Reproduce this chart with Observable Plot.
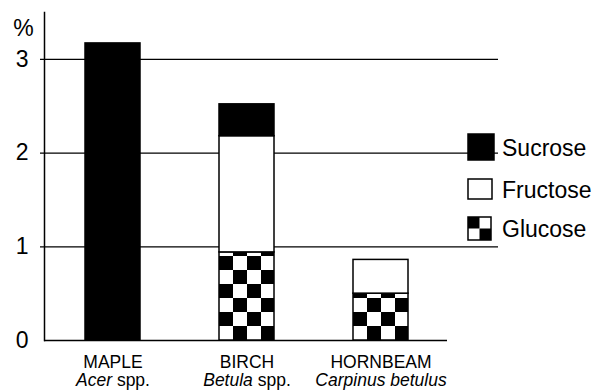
<!DOCTYPE html>
<html>
<head>
<meta charset="utf-8">
<script src="https://cdn.jsdelivr.net/npm/d3@7"></script>
<script src="https://cdn.jsdelivr.net/npm/@observablehq/plot@0.6"></script>
<style>
  html, body { margin: 0; padding: 0; background: #fff; }
  #chart { width: 593px; height: 390px; }
</style>
</head>
<body>
<div id="chart"></div>
<script>
// ---- data ----
const trees = ["MAPLE", "BIRCH", "HORNBEAM"];
const genus = ["Acer", "Betula", "Carpinus betulus"];
const genusSuffix = [" spp.", " spp.", ""];
const sugars = ["Glucose", "Fructose", "Sucrose"]; // bottom -> top of stack
const glucose = [0, 0.94, 0.50];
const fructose = [0, 1.24, 0.36];
const sucrose = [3.17, 0.34, 0];
const legendOrder = ["Sucrose", "Fructose", "Glucose"];
const yTicks = [0, 1, 2, 3];
const gridTicks = [1, 2, 3];
const yUnit = "%";

// ---- table ----
const series = {Glucose: glucose, Fructose: fructose, Sucrose: sucrose};
const rows = [];
trees.forEach((t, i) => {
  sugars.forEach(s => {
    if (series[s][i] > 0) rows.push({tree: t, sugar: s, value: series[s][i]});
  });
});
const fillOf = {Sucrose: "black", Fructose: "white", Glucose: "url(#checker)"};
const latin = trees.map((t, i) => ({tree: t, g: genus[i], s: genusSuffix[i]}));

const font = "'Liberation Sans', Arial, Helvetica, sans-serif";

const chart = Plot.plot({
  width: 593,
  height: 390,
  marginLeft: 44,
  marginRight: 95,
  marginTop: 12,
  marginBottom: 50,
  style: {fontFamily: font, background: "white", color: "black"},
  x: {domain: trees, paddingInner: 0.59, paddingOuter: 0.485, align: 0.31, axis: null},
  y: {domain: [0, 3.5], axis: null},
  color: {type: "identity"},
  marks: [
    Plot.ruleY(gridTicks, {stroke: "black", strokeWidth: 1.3, insetLeft: -4}),
    Plot.ruleY([0], {stroke: "black", strokeWidth: 1.5, insetRight: 51}),
    Plot.frame({anchor: "left", stroke: "black", strokeWidth: 1.5}),
    Plot.barY(rows, {x: "tree", y: "value", z: "sugar", fill: d => fillOf[d.sugar], stroke: "black", strokeWidth: 1.5}),
    Plot.axisY({ticks: yTicks, tickFormat: d3.format("d"), tickSize: 0, tickPadding: 16, fontSize: 23, label: null}),
    Plot.text([yUnit], {frameAnchor: "top-left", textAnchor: "middle", lineAnchor: "middle", dx: -21, dy: 16, fontSize: 23, fill: "black"}),
    Plot.text(trees, {x: d => d, frameAnchor: "bottom", lineAnchor: "middle", dy: 22, fontSize: 17.5, fill: "black"}),
    Plot.text(latin, {x: "tree", text: d => d.g + d.s, frameAnchor: "bottom", lineAnchor: "middle", dy: 39.5, fontSize: 17.5, fill: "black"})
  ]
});

document.getElementById("chart").appendChild(chart);

// ---- checkerboard fills, anchored at each bar's bottom-left ----
const svg = d3.select(chart);
const defs = svg.insert("defs", ":first-child");
function addChecker(id, x, y, cell) {
  const p = defs.append("pattern")
    .attr("id", id)
    .attr("patternUnits", "userSpaceOnUse")
    .attr("x", x).attr("y", y)
    .attr("width", 2 * cell).attr("height", 2 * cell);
  p.append("rect").attr("width", 2 * cell).attr("height", 2 * cell).attr("fill", "white");
  p.append("rect").attr("x", 0).attr("y", 0).attr("width", cell).attr("height", cell).attr("fill", "black");
  p.append("rect").attr("x", cell).attr("y", cell).attr("width", cell).attr("height", cell).attr("fill", "black");
}
svg.selectAll("rect").filter(function () {
  return (this.getAttribute("fill") || "").startsWith("url(");
}).each(function (d, i) {
  const x = +this.getAttribute("x");
  const bottom = +this.getAttribute("y") + +this.getAttribute("height");
  const id = "chk" + i;
  addChecker(id, x, bottom, 14);
  this.setAttribute("fill", `url(#${id})`);
});

// ---- italic genus names ----
svg.selectAll("text").each(function () {
  const txt = this.textContent;
  const m = latin.find(l => l.g + l.s === txt);
  if (!m) return;
  const el = d3.select(this);
  el.text(null);
  el.append("tspan").attr("font-style", "italic").text(m.g);
  if (m.s) el.append("tspan").text(m.s);
});

// ---- legend (right side) ----
const legendGeom = {
  Sucrose: {x: 468, y: 134, w: 26, h: 26, ty: 148},
  Fructose: {x: 468, y: 179, w: 24, h: 20, ty: 190},
  Glucose: {x: 468, y: 217, w: 23, h: 23, ty: 229}
};
const lg = svg.append("g").attr("font-family", font).attr("font-size", 23).attr("text-anchor", "start");
legendOrder.forEach(name => {
  const g = legendGeom[name];
  if (name === "Glucose") {
    addChecker("chkLegend", g.x, g.y, g.w / 2);
    lg.append("rect").attr("x", g.x).attr("y", g.y).attr("width", g.w).attr("height", g.h)
      .attr("fill", "url(#chkLegend)").attr("stroke", "black").attr("stroke-width", 1.5);
  } else {
    lg.append("rect").attr("x", g.x).attr("y", g.y).attr("width", g.w).attr("height", g.h)
      .attr("fill", fillOf[name]).attr("stroke", "black").attr("stroke-width", 1.5);
  }
  lg.append("text").attr("x", 502).attr("y", g.ty).attr("dy", "0.35em").attr("fill", "black")
    .attr("text-anchor", "start").text(name);
});
</script>
</body>
</html>
